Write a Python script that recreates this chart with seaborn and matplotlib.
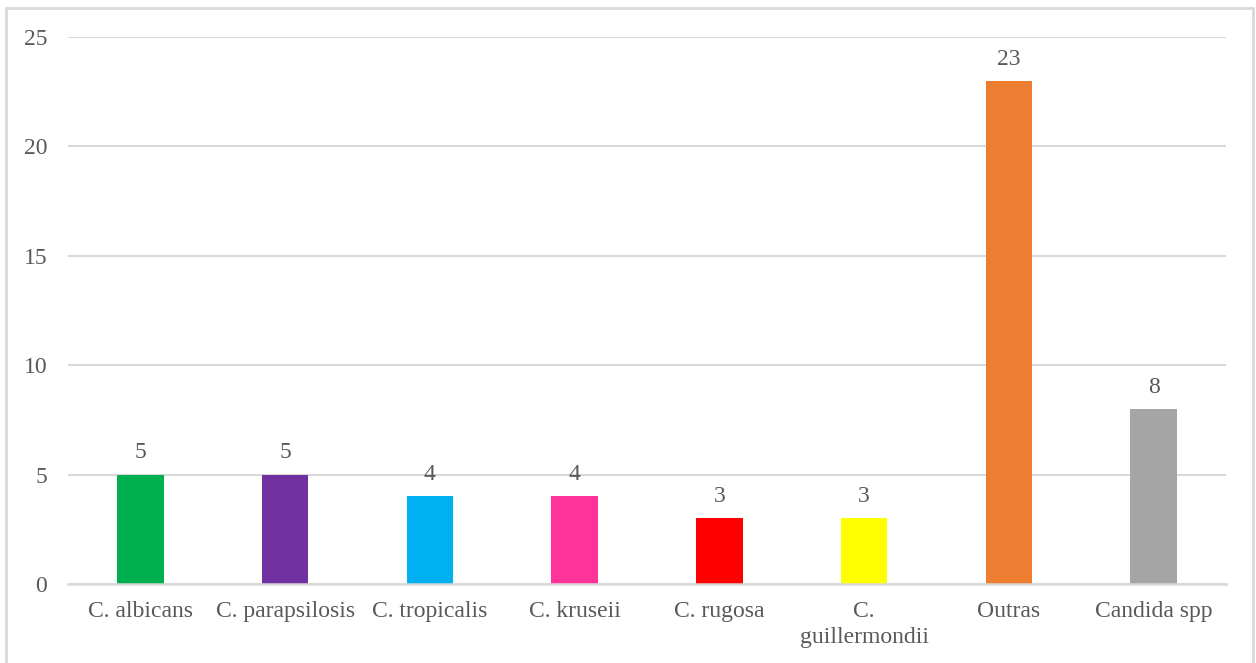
import pandas as pd
import numpy as np
import matplotlib
matplotlib.use('Agg')
import matplotlib.pyplot as plt
import seaborn as sns
from matplotlib.patches import Rectangle

# dados
especies = ['C. albicans', 'C. parapsilosis', 'C. tropicalis', 'C. kruseii',
            'C. rugosa', 'C.\nguillermondii', 'Outras', 'Candida spp']
contagem = [5, 5, 4, 4, 3, 3, 23, 8]
cores = ['#00B050', '#7030A0', '#00B0F0', '#FF3399',
         '#FF0000', '#FFFF00', '#ED7D31', '#A5A5A5']
y_ticks = [0, 5, 10, 15, 20, 25]

df = pd.DataFrame({'especie': especies, 'n': contagem})

sns.set_style('white')
plt.rcParams['font.family'] = ['Liberation Serif', 'DejaVu Serif']
cinza_txt = '#595959'
cinza_lin = '#D9D9D9'

fig = plt.figure(figsize=(12.56, 6.63), dpi=100)
ax = fig.add_axes([68 / 1256, 1 - 584 / 663, 1158 / 1256, 547 / 663])

sns.barplot(data=df, x='especie', y='n', hue='especie', palette=cores,
            legend=False, width=0.32, saturation=1, linewidth=0, ax=ax)

for cont in ax.containers:
    ax.bar_label(cont, padding=8, fontsize=17, color=cinza_txt)

ax.set_ylim(0, 25)
ax.set_yticks(y_ticks)
ax.set_xlim(-0.5, len(especies) - 0.5)
ax.yaxis.grid(True, color=cinza_lin, linewidth=1.5)
ax.set_axisbelow(True)
for s in ['top', 'right', 'left']:
    ax.spines[s].set_visible(False)
ax.spines['bottom'].set_color(cinza_lin)
ax.spines['bottom'].set_linewidth(1.8)
ax.tick_params(axis='both', length=0, labelsize=17, colors=cinza_txt)
ax.tick_params(axis='y', pad=15)
ax.tick_params(axis='x', pad=12)
for lbl in ax.get_xticklabels():
    lbl.set_linespacing(1.35)
ax.set_xlabel('')
ax.set_ylabel('')

# moldura do grafico
fig.patches.append(Rectangle((6 / 1256, -0.05), 1247 / 1256, 1.05 - 8 / 663,
                             transform=fig.transFigure, fill=False,
                             edgecolor=cinza_lin, linewidth=2))

fig.savefig('out.png', dpi=100)
